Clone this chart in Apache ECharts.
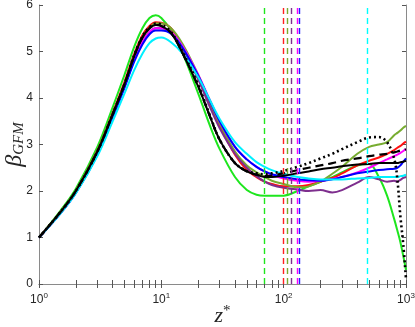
<!DOCTYPE html>
<html>
<head>
<meta charset="utf-8">
<script src="https://cdn.jsdelivr.net/npm/echarts@6/dist/echarts.min.js"></script>
<style>
  html, body { margin: 0; padding: 0; background: #fff; }
  #chart { width: 415px; height: 327px; }
</style>
</head>
<body>
<div id="chart"></div>
<script>
// z* sample points (shared by all curves)
var zPts = [1, 1.5, 2, 3, 4, 5, 6, 7, 8, 9, 10, 12, 15, 20, 25, 30, 40, 50, 60, 70, 80,
            100, 130, 160, 200, 250, 300, 400, 500, 600, 700, 800, 850, 900, 950, 1000];

// beta_GFM values
var greenVals   = [1, 1.58, 2.05, 2.95, 3.8, 4.5, 5.1, 5.5, 5.72, 5.78, 5.72, 5.45, 4.95, 4.1, 3.4, 2.9, 2.3, 2.02, 1.92, 1.9, 1.9,
                   1.9, 2.0, 2.1, 2.2, 2.3, 2.4, 2.55, 2.58, 2.3, 1.9, 1.4, 1.15, 0.9, 0.6, 0.3];
var redVals     = [1, 1.55, 2.0, 2.87, 3.68, 4.35, 4.95, 5.35, 5.55, 5.63, 5.62, 5.5, 5.1, 4.45, 3.85, 3.4, 2.78, 2.45, 2.3, 2.2, 2.15,
                   2.1, 2.1, 2.13, 2.2, 2.28, 2.38, 2.55, 2.65, 2.72, 2.8, 2.88, 2.93, 2.97, 3.02, 3.06];
var oliveVals   = [1, 1.55, 2.0, 2.85, 3.65, 4.3, 4.9, 5.28, 5.5, 5.6, 5.6, 5.5, 5.15, 4.5, 3.9, 3.45, 2.85, 2.55, 2.4, 2.3, 2.22,
                   2.15, 2.08, 2.1, 2.2, 2.37, 2.52, 2.8, 2.95, 3.0, 3.05, 3.2, 3.25, 3.3, 3.36, 3.4];
var purpleVals  = [1, 1.53, 1.97, 2.8, 3.6, 4.25, 4.82, 5.2, 5.42, 5.5, 5.5, 5.4, 5.05, 4.4, 3.8, 3.35, 2.8, 2.5, 2.32, 2.2, 2.13,
                   2.07, 2.03, 2.0, 2.02, 1.97, 2.02, 2.18, 2.3, 2.25, 2.2, 2.22, 2.2, 2.24, 2.28, 2.3];
var magentaVals = [1, 1.53, 1.97, 2.8, 3.6, 4.25, 4.82, 5.2, 5.42, 5.5, 5.5, 5.42, 5.1, 4.5, 3.95, 3.5, 2.95, 2.68, 2.52, 2.42, 2.35,
                   2.27, 2.22, 2.2, 2.22, 2.26, 2.3, 2.4, 2.5, 2.6, 2.68, 2.75, 2.78, 2.82, 2.86, 2.9];
var blueVals    = [1, 1.52, 1.96, 2.78, 3.58, 4.22, 4.78, 5.15, 5.37, 5.45, 5.45, 5.38, 5.07, 4.48, 3.93, 3.5, 2.95, 2.68, 2.52, 2.42, 2.36,
                   2.3, 2.25, 2.23, 2.22, 2.25, 2.3, 2.38, 2.42, 2.45, 2.47, 2.48, 2.5, 2.55, 2.63, 2.7];
var cyanVals    = [1, 1.52, 1.95, 2.75, 3.5, 4.1, 4.6, 4.95, 5.18, 5.28, 5.3, 5.2, 4.95, 4.45, 3.95, 3.55, 3.05, 2.8, 2.62, 2.52, 2.45,
                   2.37, 2.3, 2.27, 2.25, 2.25, 2.25, 2.27, 2.28, 2.3, 2.3, 2.3, 2.3, 2.32, 2.33, 2.35];
var blackVals   = [1, 1.55, 2.0, 2.85, 3.65, 4.3, 4.9, 5.3, 5.5, 5.57, 5.55, 5.4, 4.95, 4.25, 3.6, 3.1, 2.6, 2.42, 2.35, 2.3, 2.3,
                   2.33, 2.38, 2.42, 2.47, 2.5, 2.53, 2.57, 2.58, 2.6, 2.6, 2.6, 2.6, 2.62, 2.63, 2.65];
var dashedVals  = [1, 1.55, 2.0, 2.85, 3.65, 4.3, 4.9, 5.3, 5.5, 5.57, 5.55, 5.4, 4.95, 4.25, 3.6, 3.1, 2.6, 2.42, 2.35, 2.32, 2.33,
                   2.38, 2.45, 2.5, 2.55, 2.6, 2.65, 2.7, 2.75, 2.78, 2.8, 2.83, 2.85, 2.87, 2.88, 2.9];
var dottedVals  = [1, 1.55, 2.0, 2.85, 3.65, 4.3, 4.92, 5.32, 5.52, 5.6, 5.58, 5.42, 4.98, 4.28, 3.62, 3.1, 2.6, 2.43, 2.38, 2.36, 2.38,
                   2.43, 2.52, 2.6, 2.7, 2.8, 2.9, 3.05, 3.15, 3.16, 3.05, 2.7, 2.25, 1.45, 0.85, 0.1];

// vertical dashed markers (z* positions)
var vlinePos    = [69.5, 100, 106, 116, 130, 134, 478];
var vlineColors = ['#1ee61e', '#ff2020', '#77ac30', '#7e2f8e', '#ff00ff', '#2020ff', '#00ffff'];

var xMajor = [1, 10, 100, 1000];
var xTicks = [];
for (var d = 1; d < 1000; d *= 10) {
	for (var k = 1; k < 10; k++) xTicks.push(k * d);
}
xTicks.push(1000);

function pairs(vals) {
	var out = [];
	for (var i = 0; i < zPts.length; i++) out.push([zPts[i], vals[i]]);
	return out;
}

function curve(name, vals, color, type, width) {
	return {
		name: name,
		type: 'line',
		data: pairs(vals),
		showSymbol: false,
		smooth: 0.35,
		z: 3,
		lineStyle: { color: color, width: width || 2, type: type || 'solid' },
		silent: true
	};
}

// one markLine series per vertical line so each keeps its colour
var vlineSeries = [];
for (var i = 0; i < vlinePos.length; i++) {
	vlineSeries.push({
		name: 'v' + i, type: 'line', data: [], silent: true, color: vlineColors[i],
		markLine: {
			silent: true, symbol: ['none', 'none'], animation: false,
			label: { show: false },
			lineStyle: { color: vlineColors[i], type: [6, 4], width: 1.4, opacity: 1 },
			emphasis: { disabled: true },
			data: [{ xAxis: vlinePos[i] }]
		}
	});
}

var axisGray = '#8a8a8a';
var txt = '#262626';

var myChart = echarts.init(document.getElementById('chart'));
var option = {
	animation: false,
	grid: { left: 39, right: 9, top: 5, bottom: 43, outerBoundsMode: 'none', containLabel: false },
	xAxis: [
		{
			type: 'log', logBase: 10, min: 1, max: 1000, position: 'bottom',
			name: '{z|z}{s|*}', nameLocation: 'middle', nameGap: 20, nameMoveOverlap: false,
			nameTextStyle: {
				rich: {
					z: { fontFamily: 'Liberation Serif', fontStyle: 'italic', fontSize: 22, color: txt },
					s: { fontFamily: 'Liberation Serif', fontSize: 15, color: txt, verticalAlign: 'top', padding: [0, 0, 10, 0] }
				}
			},
			axisLine: { lineStyle: { color: axisGray, width: 1 } },
			axisTick: { inside: true, length: 4, customValues: xTicks, lineStyle: { color: '#555' } },
			axisLabel: {
				customValues: xMajor, margin: 8,
				formatter: function (v) {
					return '{b|10}{s|' + Math.round(Math.log10(v)) + '}';
				},
				rich: {
					b: { fontFamily: 'Liberation Sans', fontSize: 12, color: txt },
					s: { fontFamily: 'Liberation Sans', fontSize: 8, color: txt, verticalAlign: 'top', padding: [0, 0, 8, 0] }
				}
			},
			splitLine: { show: false }
		},
		{
			type: 'log', logBase: 10, min: 1, max: 1000, position: 'top',
			axisLine: { lineStyle: { color: axisGray, width: 1 } },
			axisTick: { inside: true, length: 4, customValues: xTicks, lineStyle: { color: '#555' } },
			axisLabel: { show: false },
			splitLine: { show: false }
		}
	],
	yAxis: [
		{
			type: 'value', min: 0, max: 6, interval: 1, position: 'left',
			name: '{b|β}{s|GFM}', nameLocation: 'middle', nameGap: 12, nameRotate: 90, nameMoveOverlap: false,
			nameTextStyle: {
				rich: {
					b: { fontFamily: 'Liberation Serif', fontStyle: 'italic', fontSize: 24, color: txt },
					s: { fontFamily: 'Liberation Serif', fontStyle: 'italic', fontSize: 15, color: txt, verticalAlign: 'bottom', padding: [8, 0, 0, 0] }
				}
			},
			axisLine: { show: true, lineStyle: { color: axisGray, width: 1 } },
			axisTick: { show: true, inside: true, length: 4, lineStyle: { color: '#555' } },
			axisLabel: { fontFamily: 'Liberation Sans', fontSize: 12, color: txt, margin: 6 },
			splitLine: { show: false }
		},
		{
			type: 'value', min: 0, max: 6, interval: 1, position: 'right',
			axisLine: { show: true, lineStyle: { color: axisGray, width: 1 } },
			axisTick: { show: true, inside: true, length: 4, lineStyle: { color: '#555' } },
			axisLabel: { show: false },
			splitLine: { show: false }
		}
	],
	series: vlineSeries.concat([
		curve('green', greenVals, '#1ee61e'),
		curve('red', redVals, '#ff1010'),
		curve('olive', oliveVals, '#77ac30'),
		curve('purple', purpleVals, '#7e2f8e'),
		curve('magenta', magentaVals, '#ff00ff'),
		curve('blue', blueVals, '#0000ff'),
		curve('cyan', cyanVals, '#00f0ff'),
		curve('black', blackVals, '#000000'),
		curve('dashed', dashedVals, '#000000', [8, 5], 2.2),
		curve('dotted', dottedVals, '#000000', [2, 3], 2.6)
	])
};
myChart.setOption(option);
</script>
</body>
</html>
